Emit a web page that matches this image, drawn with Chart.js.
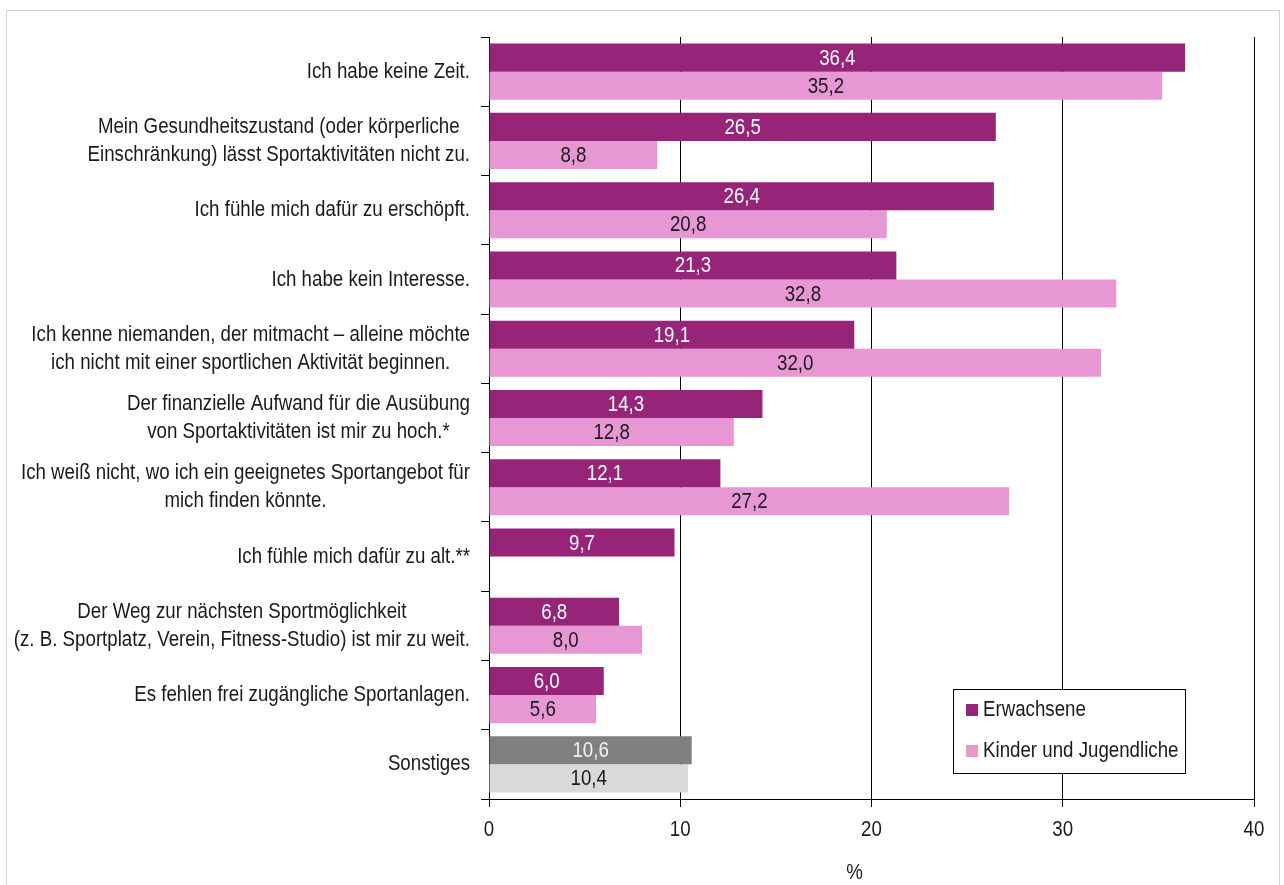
<!DOCTYPE html>
<html>
<head>
<meta charset="utf-8">
<script src="https://cdn.jsdelivr.net/npm/chart.js@4.4.1/dist/chart.umd.min.js"></script>
<style>
  html, body { margin: 0; padding: 0; background: #fff; }
  #wrap { position: relative; width: 1284px; height: 885px; overflow: hidden; }
  #frame { position: absolute; left: 6px; top: 10px; width: 1274px; height: 890px; border: 1.5px solid #d4d4d4; box-sizing: border-box; }
  canvas { position: absolute; left: 0; top: 0; }
</style>
</head>
<body>
<div id="wrap">
  <div id="frame"></div>
  <canvas id="chart" width="1284" height="885"></canvas>
</div>
<script>
const categories = [
  ["Ich habe keine Zeit."],
  ["Mein Gesundheitszustand (oder körperliche", "Einschränkung) lässt Sportaktivitäten nicht zu."],
  ["Ich fühle mich dafür zu erschöpft."],
  ["Ich habe kein Interesse."],
  ["Ich kenne niemanden, der mitmacht – alleine möchte", "ich nicht mit einer sportlichen Aktivität beginnen."],
  ["Der finanzielle Aufwand für die Ausübung", "von Sportaktivitäten ist mir zu hoch.*"],
  ["Ich weiß nicht, wo ich ein geeignetes Sportangebot für", "mich finden könnte."],
  ["Ich fühle mich dafür zu alt.**"],
  ["Der Weg zur nächsten Sportmöglichkeit", "(z. B. Sportplatz, Verein, Fitness-Studio) ist mir zu weit."],
  ["Es fehlen frei zugängliche Sportanlagen."],
  ["Sonstiges"]
];
const seriesNames = ["Erwachsene", "Kinder und Jugendliche"];
const adults = [36.4, 26.5, 26.4, 21.3, 19.1, 14.3, 12.1, 9.7, 6.8, 6.0, 10.6];
const youth = [35.2, 8.8, 20.8, 32.8, 32.0, 12.8, 27.2, null, 8.0, 5.6, 10.4];
const xTicks = [0, 10, 20, 30, 40];

const FONT = '"Liberation Sans", Arial, sans-serif';
const SIZE = 22;
const NARROW = 0.85;
const DARK = '#962479', PINK = '#e697d4', GREY = '#808080', LIGHTGREY = '#d9d9d9';

function colorsFor(main, other) {
  return categories.map((c, i) => i === categories.length - 1 ? other : main);
}

// condensed text: the reference uses a narrow face
function narrowText(ctx, text, x, y) {
  ctx.save();
  ctx.translate(x, y);
  ctx.scale(NARROW, 1);
  ctx.fillText(text, 0, 0);
  ctx.restore();
}

const barLabels = {
  id: 'barLabels',
  afterDatasetsDraw(chart) {
    const ctx = chart.ctx;
    ctx.save();
    ctx.font = SIZE + 'px ' + FONT;
    ctx.textAlign = 'center';
    ctx.textBaseline = 'middle';
    chart.data.datasets.forEach((ds, di) => {
      const meta = chart.getDatasetMeta(di);
      meta.data.forEach((el, i) => {
        const v = ds.data[i];
        if (v == null) return;
        ctx.fillStyle = di === 0 ? '#ffffff' : '#1a1a1a';
        if (di === 0 && i === categories.length - 1) ctx.fillStyle = '#f2f2f2';
        narrowText(ctx, v.toFixed(1).replace('.', ','), (el.x + el.base) / 2, el.y + 1);
      });
    });
    ctx.restore();
  },
  afterDraw(chart) {
    const ctx = chart.ctx;
    const area = chart.chartArea;
    const y = chart.scales.y;
    const x = chart.scales.x;
    ctx.save();
    ctx.font = SIZE + 'px ' + FONT;
    ctx.fillStyle = '#1a1a1a';
    ctx.textBaseline = 'middle';
    ctx.textAlign = 'center';
    const lh = 28;
    const right = area.left - 19;
    categories.forEach((lines, i) => {
      const cy = y.getPixelForTick(i);
      const widest = Math.max(...lines.map(l => ctx.measureText(l).width)) * NARROW;
      const cx = right - widest / 2;
      lines.forEach((l, k) => {
        narrowText(ctx, l, cx, cy + (k - (lines.length - 1) / 2) * lh);
      });
    });

    // x tick labels
    xTicks.forEach(v => narrowText(ctx, String(v), x.getPixelForValue(v), area.bottom + 31));

    // axis title
    narrowText(ctx, '%', area.left + (area.right - area.left) * 0.478, chart.height - 12);

    // legend
    const bx = area.right - 69 - 232, by = area.bottom - 26 - 84;
    ctx.fillStyle = '#fff';
    ctx.fillRect(bx, by, 232, 84);
    ctx.strokeStyle = '#000';
    ctx.lineWidth = 1;
    ctx.strokeRect(bx + 0.5, by + 0.5, 232, 84);
    ctx.textAlign = 'left';
    [DARK, PINK].forEach((c, k) => {
      const cy = by + 21 + k * 41;
      ctx.fillStyle = c;
      ctx.fillRect(bx + 13, cy - 6, 12, 12);
      ctx.fillStyle = '#1a1a1a';
      narrowText(ctx, seriesNames[k], bx + 30, cy);
    });
    ctx.restore();
  }
};

new Chart(document.getElementById('chart'), {
  type: 'bar',
  data: {
    labels: categories,
    datasets: [
      { label: seriesNames[0], data: adults, backgroundColor: colorsFor(DARK, GREY), categoryPercentage: 0.81, barPercentage: 1 },
      { label: seriesNames[1], data: youth, backgroundColor: colorsFor(PINK, LIGHTGREY), categoryPercentage: 0.81, barPercentage: 1 }
    ]
  },
  options: {
    indexAxis: 'y',
    responsive: false,
    animation: false,
    layout: { padding: { top: 37, right: 30, left: 0, bottom: 0 } },
    plugins: { legend: { display: false }, tooltip: { enabled: false } },
    scales: {
      x: {
        min: 0, max: 40,
        afterBuildTicks: s => { s.ticks = xTicks.map(v => ({ value: v })); },
        afterFit: s => { s.height = 86; },
        border: { display: true, color: '#000', width: 1 },
        grid: { color: '#000', lineWidth: 1, tickLength: 8, tickColor: '#000' },
        ticks: { display: false }
      },
      y: {
        afterFit: s => { s.width = 489; },
        border: { display: true, color: '#000', width: 1 },
        grid: { drawOnChartArea: false, offset: true, tickLength: 8, tickColor: '#000', color: '#000' },
        ticks: { display: false }
      }
    }
  },
  plugins: [barLabels]
});
</script>
</body>
</html>
